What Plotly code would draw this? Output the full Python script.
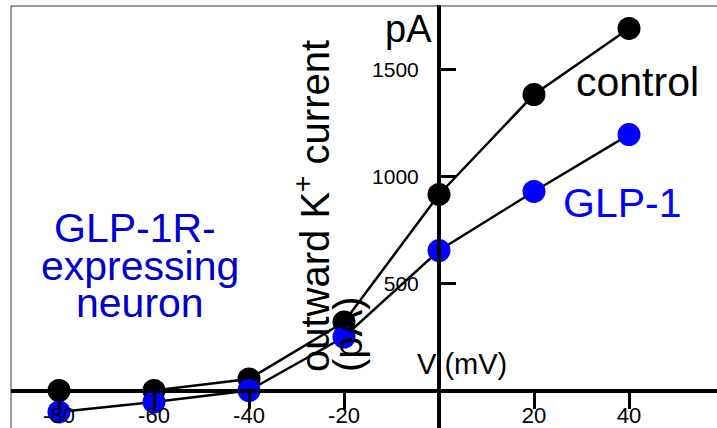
import plotly.graph_objects as go

# ---- data ----
voltage_mV = [-80, -60, -40, -20, 0, 20, 40]
control_pA = [0, 0, 54, 320, 916, 1383, 1692]
glp1_pA = [-100, -54, 0, 250, 654, 930, 1196]

x_tick_vals = [-80, -60, -40, -20, 20, 40]
x_tick_text = ["-80", "-60", "-40", "-20", "20", "40"]
y_tick_vals = [500, 1000, 1500]
y_tick_text = ["500", "1000", "1500"]

W, H = 717, 428
FONT = "Liberation Sans, Arial, Helvetica, sans-serif"

# pixel geometry of the reference
x0_px, x_scale = 439.0, 4.75      # px of V=0, px per mV
y0_px, y_scale = 390.5, 0.214     # px of I=0, px per pA
left_px, top_px = 11, 5

x_range = [(left_px - x0_px) / x_scale, (W - x0_px) / x_scale]
y_range = [(y0_px - H) / y_scale, (y0_px - top_px) / y_scale]

fig = go.Figure()
fig.add_trace(go.Scatter(
    x=voltage_mV, y=control_pA, mode="lines+markers", name="control",
    line=dict(color="black", width=2.5),
    marker=dict(color="black", size=23, line=dict(width=0)),
))
fig.add_trace(go.Scatter(
    x=voltage_mV, y=glp1_pA, mode="lines+markers", name="GLP-1",
    line=dict(color="black", width=2.5),
    marker=dict(color="#0000ff", size=23, line=dict(width=0)),
))

fig.update_layout(
    width=W, height=H,
    margin=dict(l=0, r=0, t=0, b=0, pad=0, autoexpand=False),
    paper_bgcolor="white", plot_bgcolor="white",
    showlegend=False,
    template="none",
    font=dict(family=FONT, color="black"),
    xaxis=dict(
        domain=[left_px / W, 1], range=x_range, automargin=False,
        anchor="free", position=1 - y0_px / H,
        showline=True, linecolor="black", linewidth=4,
        showgrid=False, zeroline=False,
        ticks="outside", ticklen=16, tickwidth=3, tickcolor="black",
        tickvals=x_tick_vals, ticktext=x_tick_text,
        tickfont=dict(size=22, family=FONT, color="black"),
        ticklabelstandoff=-12,
    ),
    yaxis=dict(
        domain=[0, 1 - top_px / H], range=y_range, automargin=False,
        anchor="free", position=x0_px / W, side="left",
        showline=True, linecolor="black", linewidth=4,
        showgrid=False, zeroline=False,
        ticks="inside", ticklen=15, tickwidth=3, tickcolor="black",
        tickvals=y_tick_vals, ticktext=y_tick_text,
        tickfont=dict(size=21, family=FONT, color="black"),
        ticklabelstandoff=14,
    ),
)

# frame (top and left border)
fig.add_shape(type="line", xref="paper", yref="paper",
              x0=left_px / W, x1=1, y0=1 - 6 / H, y1=1 - 6 / H,
              line=dict(color="#333333", width=1))
fig.add_shape(type="line", xref="paper", yref="paper",
              x0=left_px / W, x1=left_px / W, y0=0, y1=1 - 6 / H,
              line=dict(color="#333333", width=1))


def px_ann(text, xpx, ypx, size, color="black", xanchor="center",
           yanchor="middle", angle=0):
    fig.add_annotation(
        text=text, xref="paper", yref="paper",
        x=xpx / W, y=1 - ypx / H, xanchor=xanchor, yanchor=yanchor,
        showarrow=False, textangle=angle,
        font=dict(size=size, color=color, family=FONT),
    )


px_ann("pA", 434, 29, 38, xanchor="right")
px_ann("control", 637, 82, 41)
px_ann("GLP-1", 622, 203, 41, color="#0000ff")
px_ann("V (mV)", 462, 364, 29)
px_ann("GLP-1R-", 135, 228, 41, color="#0000cc")
px_ann("expressing", 140, 266, 41, color="#0000cc")
px_ann("neuron", 140, 303, 41, color="#0000cc")
px_ann("outward K<sup>+</sup> current", 312, 374, 40,
       yanchor="bottom", angle=-90)
px_ann("(pA)", 348, 374, 40, yanchor="bottom", angle=-90)

fig.write_html(
    "out.html",
    config={"displayModeBar": False},
    post_script="document.body.style.margin='0';document.body.style.overflow='hidden';",
)
